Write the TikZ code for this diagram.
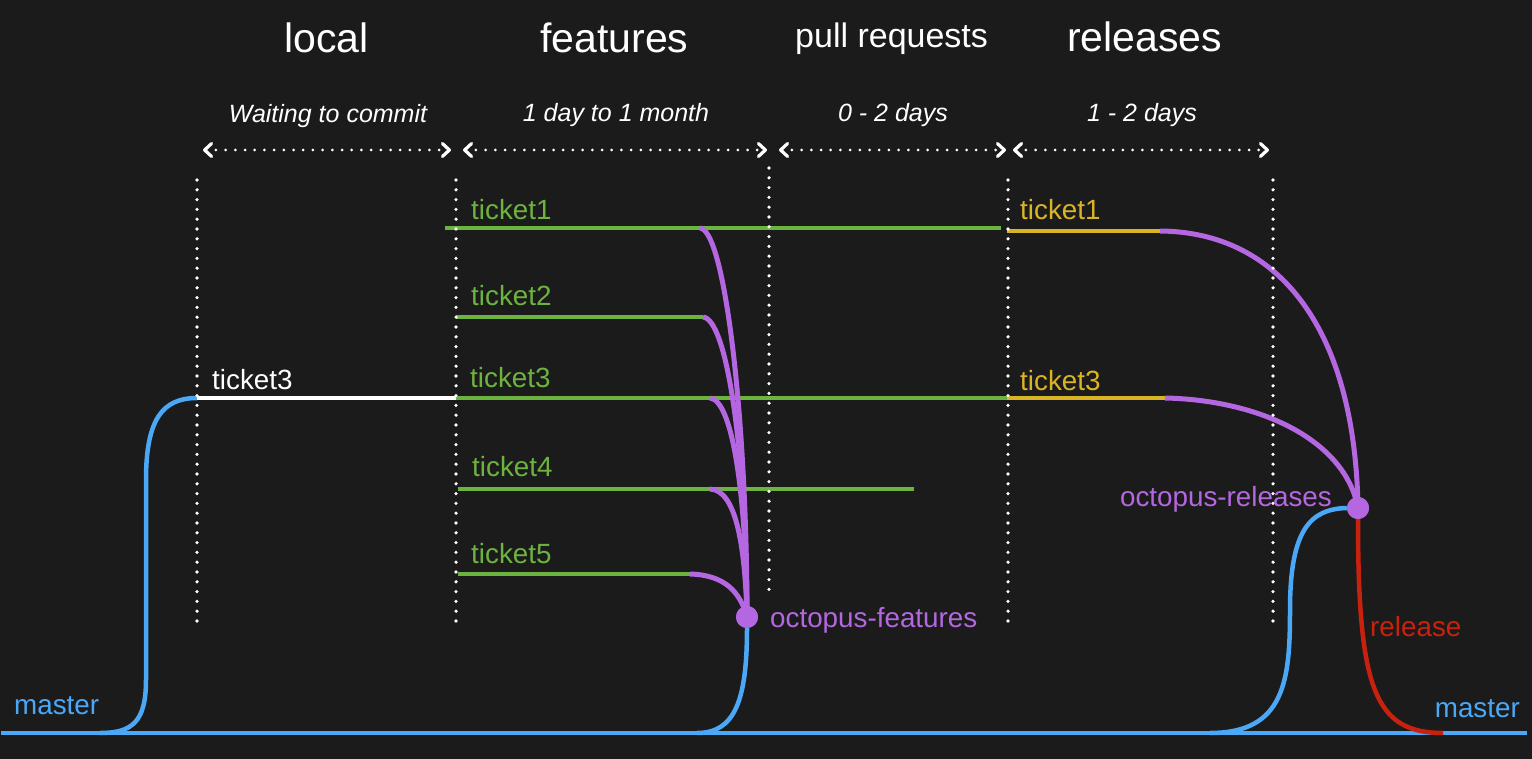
\documentclass[tikz,border=0pt]{standalone}
\usepackage{fontspec}
\setmainfont{Liberation Sans}
\usetikzlibrary{arrows.meta}
\definecolor{bg}{HTML}{1B1B1B}
\definecolor{cgreen}{HTML}{6DB33F}
\definecolor{cpurple}{HTML}{B467E0}
\definecolor{cblue}{HTML}{4BA8F7}
\definecolor{cyellow}{HTML}{D9B526}
\definecolor{cred}{HTML}{C8220E}
\begin{document}
\begin{tikzpicture}[x=1pt,y=-1pt,
  branch/.style={line width=4pt},
  merge/.style={cpurple, line width=5pt},
  mainline/.style={cblue, line width=4.5pt},
  dotline/.style={white, line width=3.6pt, line cap=round, dash pattern=on 0pt off 9.8pt},
  spanarrow/.style={white, line width=3pt, line cap=round, dash pattern=on 0pt off 9.7pt,
     {Straight Barb[length=7pt,width=13pt,line width=3.2pt,round]}-{Straight Barb[length=7pt,width=13pt,line width=3.2pt,round]}},
  title/.style={font=\fontsize{41}{49}\selectfont, text=white, inner sep=0pt, anchor=base west},
  subtitle/.style={font=\fontsize{34}{40}\selectfont, text=white, inner sep=0pt, anchor=base west},
  duration/.style={font=\itshape\fontsize{25}{30}\selectfont, text=white, inner sep=0pt, anchor=base},
  lbl/.style={font=\fontsize{27.8}{33}\selectfont, inner sep=0pt, anchor=base west},
  octo/.style={circle, fill=cpurple, minimum size=22pt, inner sep=0pt}
]
\fill[bg] (0,0) rectangle (1532,759);
\useasboundingbox (0,0) rectangle (1532,759);

% titles
\node[title] (tlocal) at (284,53) {local};
\node[title] (tfeat) at (540,53) {features};
\node[subtitle] (tpull) at (795,48) {pull requests};
\node[title] (trel) at (1067,52) {releases};

% durations
\node[duration] (dlocal) at (328,123) {Waiting to commit};
\node[duration] (dfeat) at (616,122) {1 day to 1 month};
\node[duration] (dpull) at (893,122) {0 - 2 days};
\node[duration] (drel) at (1142,122) {1 - 2 days};

% span arrow end points
\coordinate (a1) at (203,150); \coordinate (a2) at (451,150);
\coordinate (b1) at (463,150); \coordinate (b2) at (767,150);
\coordinate (c1) at (779,150); \coordinate (c2) at (1006,150);
\coordinate (e1) at (1013,150); \coordinate (e2) at (1269,150);
\draw[spanarrow] (a1) -- (a2);
\draw[spanarrow] (b1) -- (b2);
\draw[spanarrow] (c1) -- (c2);
\draw[spanarrow] (e1) -- (e2);

% octopus nodes
\node[octo] (of) at (747,617) {};
\node[octo] (orl) at (1358,508) {};

% master
\coordinate (m0) at (1,733);
\coordinate (m1) at (1527,733);
\draw[mainline] (m0) -- (m1);

% local branch from master
\coordinate (l0) at (100,733);
\coordinate (l1) at (146,680);
\coordinate (l2) at (146,480);
\coordinate (l3) at (197,398);
\draw[mainline] (l0) .. controls (132,733) and (146,722) .. (l1) -- (l2)
   .. controls (146,420) and (162,398) .. (l3);
\coordinate (f3s) at (456,398);
\draw[white,branch] (l3) -- (f3s);

% feature tickets (green)
\coordinate (f1s) at (445,228); \coordinate (f1b) at (700,228); \coordinate (f1e) at (1001,228);
\coordinate (f2s) at (456,317); \coordinate (f2b) at (703,317);
\coordinate (f3b) at (710,398); \coordinate (f3e) at (1007,398);
\coordinate (f4s) at (458,489); \coordinate (f4b) at (710,489); \coordinate (f4e) at (914,489);
\coordinate (f5s) at (458,574); \coordinate (f5b) at (690,574);
\draw[cgreen,branch] (f1s) -- (f1e);
\draw[cgreen,branch] (f2s) -- (f2b);
\draw[cgreen,branch] (f3s) -- (f3e);
\draw[cgreen,branch] (f4s) -- (f4e);
\draw[cgreen,branch] (f5s) -- (f5b);

% merges into octopus-features
\draw[merge] (f1b) .. controls (725,230) and (747,420) .. (of.center);
\draw[merge] (f2b) .. controls (727,319) and (746,450) .. (of.center);
\draw[merge] (f3b) .. controls (732,400) and (746,490) .. (of.center);
\draw[merge] (f4b) .. controls (736,490) and (745,545) .. (of.center);
\draw[merge] (f5b) .. controls (725,575) and (740,592) .. (of.center);

% octopus-features back to master
\coordinate (fm) at (697,733);
\draw[mainline] (of.south) .. controls (747,700) and (735,733) .. (fm);

% release tickets (yellow)
\coordinate (r1s) at (1007,231); \coordinate (r1b) at (1160,231);
\coordinate (r3s) at (1007,398); \coordinate (r3b) at (1165,398);
\draw[cyellow,branch] (r1s) -- (r1b);
\draw[cyellow,branch] (r3s) -- (r3b);
\draw[merge] (r1b) .. controls (1280,232) and (1355,330) .. (orl.center);
\draw[merge] (r3b) .. controls (1260,400) and (1345,440) .. (orl.center);

% master into octopus-releases
\coordinate (rm0) at (1210,733);
\coordinate (rm1) at (1290,610);
\draw[mainline] (rm0) .. controls (1285,733) and (1290,680) .. (rm1)
   .. controls (1290,530) and (1310,509) .. (orl.west);
% release branch
\coordinate (rl) at (1443,733);
\draw[cred,line width=4.5pt] (orl.south) .. controls (1358,690) and (1375,733) .. (rl);

% redraw the dots on top
\node[octo] at (of) {};
\node[octo] at (orl) {};

% dotted verticals
\coordinate (v1t) at (197,180); \coordinate (v1b) at (197,630);
\coordinate (v2t) at (456,180); \coordinate (v2b) at (456,630);
\coordinate (v3t) at (769,168); \coordinate (v3b) at (769,593);
\coordinate (v4t) at (1008,180); \coordinate (v4b) at (1008,630);
\coordinate (v5t) at (1273,180); \coordinate (v5b) at (1273,630);
\draw[dotline] (v1t) -- (v1b);
\draw[dotline] (v2t) -- (v2b);
\draw[dotline] (v3t) -- (v3b);
\draw[dotline] (v4t) -- (v4b);
\draw[dotline] (v5t) -- (v5b);

% labels
\node[lbl, text=white] (k3l) at (212,389) {ticket3};
\node[lbl, text=cgreen] (k1) at (471,220) {ticket1};
\node[lbl, text=cgreen] (k2) at (471,306) {ticket2};
\node[lbl, text=cgreen] (k3) at (470,388) {ticket3};
\node[lbl, text=cgreen] (k4) at (472,476) {ticket4};
\node[lbl, text=cgreen] (k5) at (471,563) {ticket5};
\node[lbl, text=cyellow] (y1) at (1020,220) {ticket1};
\node[lbl, text=cyellow] (y3) at (1020,390) {ticket3};
\node[lbl, text=cpurple] (lof) at (770,627) {octopus-features};
\node[lbl, text=cpurple, anchor=base east] (lor) at (1332,506) {octopus-releases};
\node[lbl, text=cred] (lrel) at (1370,636) {release};
\node[lbl, text=cblue] (lm0) at (14,714) {master};
\node[lbl, text=cblue, anchor=base east] (lm1) at (1520,717) {master};
\end{tikzpicture}
\end{document}
